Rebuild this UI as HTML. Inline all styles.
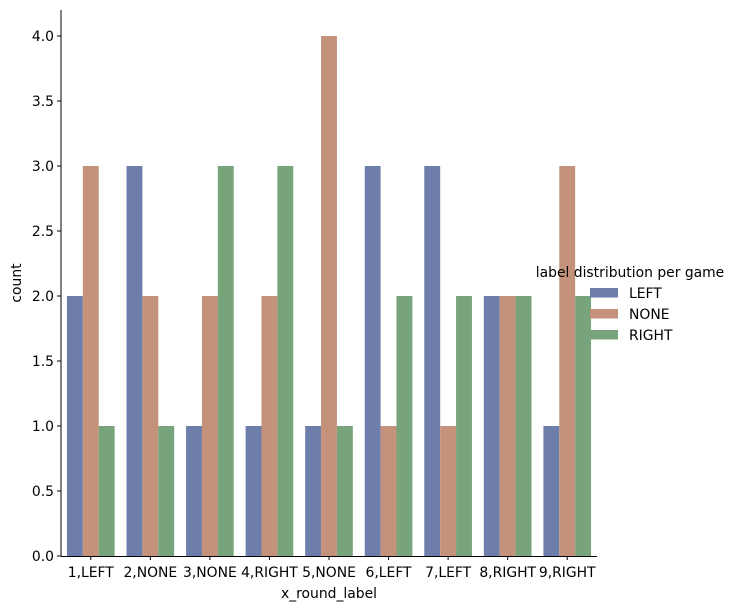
<!DOCTYPE html>
<html><head><meta charset="utf-8"><style>
html,body{margin:0;padding:0;background:#fff;}
svg{display:block;font-family:"DejaVu Sans","Liberation Sans",sans-serif;}
</style></head><body>
<svg id="chart" width="737" height="609" viewBox="0 0 737 609"></svg>
<script>
const categories=["1,LEFT","2,NONE","3,NONE","4,RIGHT","5,NONE","6,LEFT","7,LEFT","8,RIGHT","9,RIGHT"];
const seriesNames=["LEFT","NONE","RIGHT"];
const leftValues=[2,3,1,1,1,3,3,2,1];
const noneValues=[3,2,2,2,4,1,1,2,3];
const rightValues=[1,1,3,3,1,2,2,2,2];
const yTicks=[0,0.5,1,1.5,2,2.5,3,3.5,4];
const colors=["#6d7eab","#c4927a","#78a47c"];
const series=[leftValues,noneValues,rightValues];
const svg=document.getElementById('chart');
const NS="http://www.w3.org/2000/svg";
const X0=61,X1=597,Y0=556,YT=10,FS=13.9;
function y(v){return Y0-v*130;}
const band=(X1-X0)/categories.length;
function xc(i){return X0+band*(i+0.5);}
function mk(tag,attrs,parent){const e=document.createElementNS(NS,tag);for(const k in attrs)e.setAttribute(k,attrs[k]);(parent||svg).appendChild(e);return e;}
const barW=band*0.8/3;
series.forEach((vals,s)=>{vals.forEach((v,i)=>{
 const r=mk('rect',{x:xc(i)-band*0.4+s*barW,y:y(v),width:barW,height:Y0-y(v),fill:colors[s]});
 
 
});});
const ax=mk('line',{x1:X0,y1:YT,x2:X0,y2:Y0+0.5,stroke:'#000','stroke-width':1});


const bx=mk('line',{x1:X0,y1:Y0+0.5,x2:X1,y2:Y0+0.5,stroke:'#000','stroke-width':1});


yTicks.forEach(t=>{
 mk('line',{x1:X0-4,y1:y(t),x2:X0,y2:y(t),stroke:'#000'});
 const tx=mk('text',{x:X0-7,y:y(t)+5,'text-anchor':'end','font-size':FS});
 tx.textContent=t.toFixed(1);
 
 
});
categories.forEach((c,i)=>{
 mk('line',{x1:xc(i),y1:Y0,x2:xc(i),y2:Y0+4,stroke:'#000'});
 const tx=mk('text',{x:xc(i),y:Y0+21,'text-anchor':'middle','font-size':FS});
 tx.textContent=c;
 
 
});
const xl=mk('text',{x:329,y:598,'text-anchor':'middle','font-size':FS});
xl.textContent='x_round_label';


const yl=mk('text',{x:0,y:0,'text-anchor':'middle','font-size':FS,transform:'translate(21,283) rotate(-90)'});
yl.textContent='count';


const lt=mk('text',{x:630,y:277,'text-anchor':'middle','font-size':FS});
lt.textContent='label distribution per game';


seriesNames.forEach((n,s)=>{
 const ly=288+s*21;
 const p=mk('rect',{x:590,y:ly,width:28,height:9.5,fill:colors[s]});
 
 
 const t=mk('text',{x:629,y:ly+10,'font-size':FS});
 t.textContent=n;
 
 
});
</script>
</body></html>
